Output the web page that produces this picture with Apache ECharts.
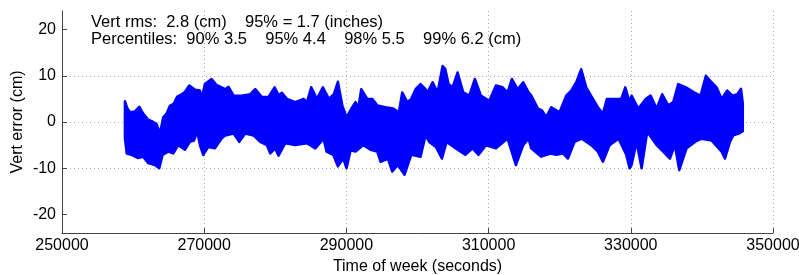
<!DOCTYPE html>
<html>
<head>
<meta charset="utf-8">
<script src="https://cdn.jsdelivr.net/npm/echarts@6/dist/echarts.min.js"></script>
<style>html,body{margin:0;padding:0;background:#fff}#c{width:799px;height:275px}</style>
</head>
<body>
<div id="c"></div>
<script>
// Tick values
const xTicks = [250000, 270000, 290000, 310000, 330000, 350000];
const yTicks = [-20, -10, 0, 10, 20];
// Annotation text
const line1 = 'Vert rms:  2.8 (cm)    95% = 1.7 (inches)';
const line2 = 'Percentiles:  90% 3.5    95% 4.4    98% 5.5    99% 6.2 (cm)';
// Upper envelope of vertical error (time of week s, cm)
const upT = [258850,259175,259550,260250,260860,261420,262130,262830,263300,263770,264240,264710,265180,265740,266210,266820,267290,267900,268690,269400,269630,270100,271040,271740,272440,
272960,273430,274130,275300,276475,277180,278120,279050,279900,280460,280930,281630,282800,283980,284450,285050,285850,286690,
287540,288240,288800,289420,290020,290820,291290,291670,292090,292930,293630,294340,295510,296590,297380,297850,298560,299120,299730,300430,301130,
301420,302120,302820,303530,303900,304370,304930,305640,306430,307280,308070,308920,310090,311030,311970,312670,313280,314080,314870,315620,
316000,316940,317500,318110,318810,319980,320920,321620,322330,323030,323730,324670,325370,326080,326640,327720,328650,329220,329830,
330110,331050,332130,332780,333630,334420,335270,335970,336670,337750,338880,339810,340560,341360,342060,342770,343560,344310,345000,345500,345750];
const upV = [4.5,3.0,2.1,2.3,3.3,1.8,0.5,0.0,-0.4,-2.5,1.0,1.8,3.5,4.0,5.5,6.0,6.5,7.9,7.0,6.8,5.0,8.2,9.3,8.0,7.5,
7.1,7.6,5.7,5.7,6.0,7.1,5.4,5.4,7.5,5.8,6.3,5.0,4.3,5.0,4.3,7.5,5.0,7.5,
5.0,6.0,8.7,3.6,1.0,3.2,4.3,3.0,7.1,5.0,5.0,3.6,3.2,2.9,2.1,6.4,4.3,5.0,7.1,8.2,7.1,
6.4,8.6,6.4,12.1,11.5,8.2,7.5,10.7,6.4,5.7,9.3,5.7,4.6,7.9,7.5,6.4,9.3,7.1,8.6,6.4,
5.7,2.9,2.5,1.1,3.2,2.1,5.7,6.8,8.6,11.4,7.5,5.0,3.2,1.8,5.0,5.0,5.0,7.5,4.3,
5.7,2.9,5.0,5.7,2.9,6.0,3.6,4.3,8.2,7.5,6.4,5.7,10.0,8.6,7.5,5.0,6.8,5.7,6.0,7.2,4.0];
// Lower envelope of vertical error (time of week s, cm)
const loT = [258850,259100,259790,260720,261420,262130,263070,263680,264140,264940,265650,266350,267290,267990,268550,269020,269400,269860,270570,271500,272440,
272960,274130,274930,275770,276940,277880,278820,279290,279990,280460,281400,282800,284450,285620,286790,
287210,288150,288800,289560,290020,290590,291290,292370,293400,294340,294810,295840,296450,297240,298180,299120,300430,301130,
301650,302590,303430,304090,305400,306720,307750,308590,309620,311030,312670,313840,314870,315620,
316000,317400,318720,319510,320450,321160,322090,323120,324440,325370,326080,327020,328280,329360,329830,
330110,330810,331520,332310,333630,334560,335500,336200,336810,337840,339020,339950,341360,342770,343240,343940,344410,345200,345750];
const loV = [-3.5,-6.8,-7.1,-7.8,-7.5,-8.9,-9.3,-10.0,-7.1,-6.4,-6.8,-5.0,-6.0,-4.3,-4.0,-2.1,-5.0,-7.1,-5.4,-5.7,-3.6,
-2.9,-2.5,-4.3,-2.5,-2.9,-4.3,-5.0,-6.8,-5.7,-7.3,-4.6,-5.0,-4.6,-5.7,-3.6,
-6.4,-7.1,-9.6,-7.9,-10.0,-6.1,-6.4,-5.0,-6.0,-6.4,-8.6,-7.9,-10.7,-9.3,-11.4,-7.1,-7.5,-2.9,
-4.3,-5.4,-7.9,-4.3,-5.7,-7.1,-5.7,-7.1,-5.0,-5.7,-3.6,-9.3,-5.0,-3.6,
-5.7,-7.5,-6.8,-7.1,-6.8,-7.9,-4.3,-3.6,-5.0,-6.4,-8.6,-5.0,-3.6,-7.1,-10.0,
-9.3,-4.3,-10.0,-2.1,-5.0,-6.4,-7.9,-5.0,-10.4,-5.7,-4.3,-3.6,-4.0,-6.4,-7.9,-4.3,-2.9,-2.5,-2.0];

const FONT = 'Liberation Sans, Arial, sans-serif';
const chart = echarts.init(document.getElementById('c'), null, {renderer: 'canvas'});
const upData = upT.map((t, i) => [t, upV[i]]);
const loData = loT.map((t, i) => [t, loV[i]]);

chart.setOption({
  animation: false,
  grid: {left: 62, right: 26, top: 11, bottom: 42, containLabel: false, outerBoundsMode: 'none'},
  xAxis: {
    type: 'value', min: 250000, max: 350000,
    name: 'Time of week (seconds)', nameLocation: 'middle', nameGap: 26, nameMoveOverlap: false,
    nameTextStyle: {fontFamily: FONT, fontSize: 16, color: '#000'},
    axisLine: {show: true, onZero: false, lineStyle: {color: '#444', width: 1}},
    axisTick: {show: true, inside: true, length: 5, customValues: xTicks, lineStyle: {color: '#444'}},
    axisLabel: {customValues: xTicks, fontFamily: FONT, fontSize: 16, color: '#000', margin: 5,
      formatter: v => String(v), showMinLabel: true, showMaxLabel: true, hideOverlap: false},
    splitLine: {show: true, lineStyle: {color: '#aaa', type: [1, 3], width: 1}}
  },
  yAxis: {
    type: 'value', min: -24, max: 24,
    name: 'Vert error (cm)', nameLocation: 'middle', nameGap: 36, nameRotate: 90, nameMoveOverlap: false,
    nameTextStyle: {fontFamily: FONT, fontSize: 16, color: '#000'},
    axisLine: {show: true, onZero: false, lineStyle: {color: '#444', width: 1}},
    axisTick: {show: true, inside: true, length: 5, customValues: yTicks, lineStyle: {color: '#444'}},
    axisLabel: {customValues: yTicks, fontFamily: FONT, fontSize: 16, color: '#000', margin: 6,
      formatter: v => String(v)},
    splitLine: {show: true, showMinLine: false, showMaxLine: false, lineStyle: {color: '#aaa', type: [1, 3], width: 1}}
  },
  series: [{
    type: 'custom',
    coordinateSystem: 'cartesian2d',
    data: [[upT[0], upV[0]]],
    clip: true,
    renderItem: function (params, api) {
      const pts = [];
      for (let i = 0; i < upData.length; i++) pts.push(api.coord(upData[i]));
      for (let i = loData.length - 1; i >= 0; i--) pts.push(api.coord(loData[i]));
      return {
        type: 'polygon',
        shape: {points: pts},
        style: {fill: '#0000ff', stroke: '#0000ff', lineWidth: 2.5, lineJoin: 'round'}
      };
    }
  }],
  graphic: [
    {type: 'text', left: 91, top: 14, style: {text: line1, font: '16.5px ' + FONT, fill: '#000'}},
    {type: 'text', left: 91, top: 31, style: {text: line2, font: '16.5px ' + FONT, fill: '#000'}}
  ]
});
</script>
</body>
</html>
